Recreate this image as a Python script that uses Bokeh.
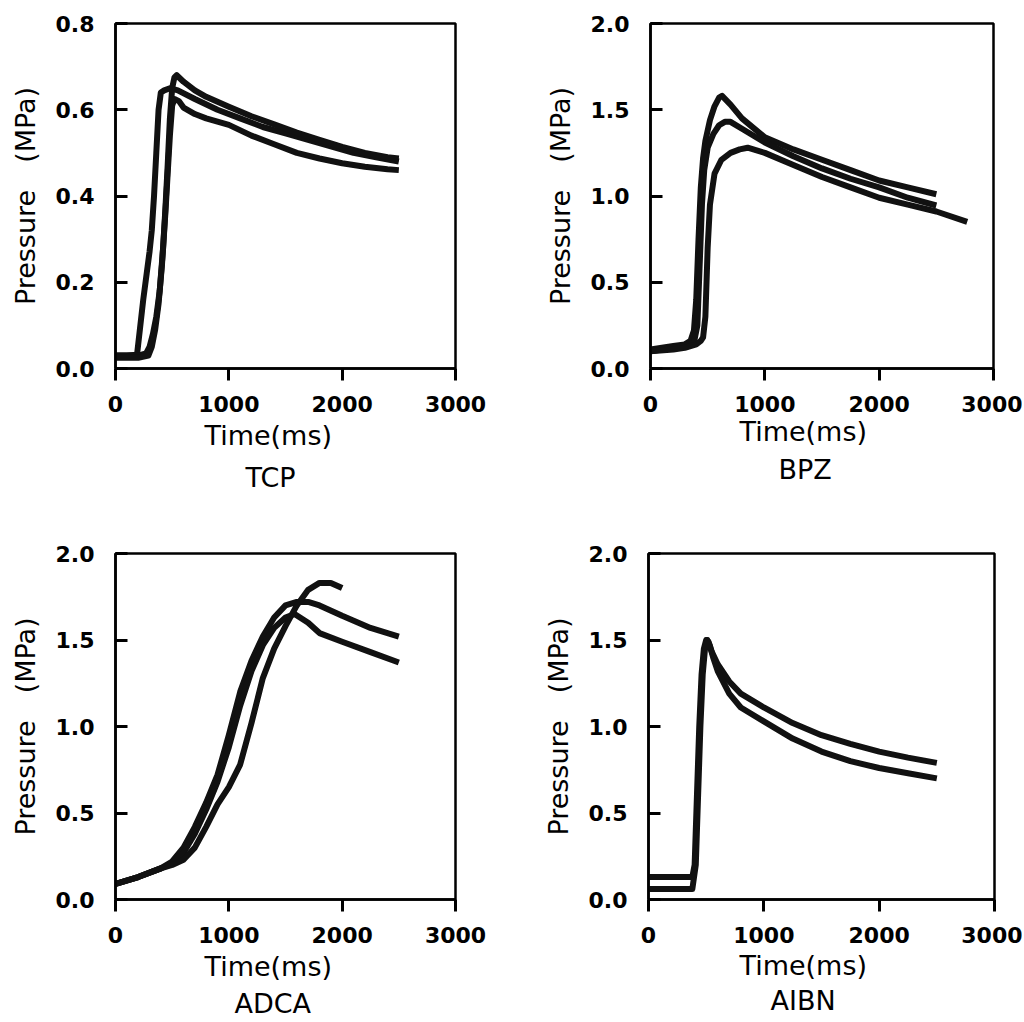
from bokeh.plotting import figure
from bokeh.layouts import column, row
from bokeh.models import Range1d, FixedTicker, PrintfTickFormatter, Title
from bokeh.embed import file_html
from bokeh.resources import INLINE

# ---------------- data ----------------
x_ticks = [0, 1000, 2000, 3000]

# TCP
tcp1_t = [0, 100, 190, 215, 245, 275, 300, 320, 340, 360, 380, 400, 430, 480, 550, 700, 900, 1100, 1300, 1500, 1700, 1900, 2100, 2300, 2500]
tcp1_p = [0.03, 0.03, 0.032, 0.09, 0.16, 0.22, 0.27, 0.32, 0.40, 0.50, 0.60, 0.64, 0.645, 0.65, 0.645, 0.625, 0.60, 0.58, 0.56, 0.545, 0.53, 0.515, 0.50, 0.49, 0.48]
tcp2_t = [0, 100, 200, 270, 300, 330, 360, 390, 420, 440, 460, 480, 500, 520, 540, 600, 700, 800, 1000, 1200, 1400, 1600, 1800, 2000, 2200, 2400, 2500]
tcp2_p = [0.03, 0.03, 0.03, 0.035, 0.05, 0.08, 0.12, 0.18, 0.28, 0.37, 0.47, 0.58, 0.65, 0.675, 0.68, 0.665, 0.645, 0.63, 0.607, 0.585, 0.566, 0.547, 0.53, 0.514, 0.50, 0.49, 0.487]
tcp3_t = [0, 100, 200, 290, 320, 350, 380, 410, 440, 460, 480, 500, 520, 560, 600, 700, 800, 1000, 1200, 1400, 1600, 1800, 2000, 2200, 2400, 2500]
tcp3_p = [0.025, 0.025, 0.025, 0.03, 0.05, 0.09, 0.15, 0.24, 0.36, 0.45, 0.54, 0.61, 0.625, 0.62, 0.605, 0.59, 0.58, 0.565, 0.54, 0.52, 0.50, 0.487, 0.476, 0.468, 0.462, 0.46]

# BPZ
bpz1_t = [0, 100, 200, 300, 350, 380, 400, 420, 440, 460, 480, 520, 560, 600, 626, 700, 800, 1000, 1250, 1500, 1750, 2000, 2250, 2500]
bpz1_p = [0.11, 0.12, 0.13, 0.14, 0.16, 0.22, 0.40, 0.75, 1.05, 1.22, 1.32, 1.44, 1.52, 1.57, 1.58, 1.53, 1.45, 1.34, 1.27, 1.21, 1.15, 1.09, 1.05, 1.01]
bpz2_t = [0, 200, 300, 380, 410, 430, 450, 470, 500, 550, 600, 650, 700, 800, 1000, 1250, 1500, 1750, 2000, 2250, 2500]
bpz2_p = [0.10, 0.12, 0.13, 0.15, 0.25, 0.60, 0.95, 1.15, 1.28, 1.36, 1.41, 1.43, 1.43, 1.39, 1.31, 1.23, 1.16, 1.10, 1.05, 0.99, 0.945]
bpz3_t = [0, 200, 300, 400, 440, 460, 480, 500, 520, 560, 620, 700, 780, 850, 1000, 1250, 1500, 1750, 2000, 2250, 2500, 2770]
bpz3_p = [0.10, 0.11, 0.12, 0.14, 0.16, 0.18, 0.30, 0.70, 0.95, 1.13, 1.21, 1.25, 1.27, 1.28, 1.25, 1.18, 1.11, 1.05, 0.99, 0.95, 0.91, 0.85]

# ADCA
adca1_t = [0, 200, 400, 500, 600, 700, 800, 900, 1000, 1100, 1200, 1300, 1400, 1500, 1600, 1700, 1800, 2000, 2250, 2500]
adca1_p = [0.09, 0.13, 0.18, 0.22, 0.30, 0.42, 0.56, 0.72, 0.95, 1.20, 1.38, 1.52, 1.63, 1.70, 1.72, 1.72, 1.70, 1.64, 1.57, 1.52]
adca2_t = [0, 200, 400, 500, 600, 700, 800, 900, 1000, 1100, 1200, 1300, 1400, 1500, 1580, 1700, 1800, 2000, 2250, 2500]
adca2_p = [0.09, 0.13, 0.18, 0.21, 0.27, 0.38, 0.52, 0.68, 0.88, 1.12, 1.32, 1.47, 1.57, 1.63, 1.65, 1.60, 1.54, 1.49, 1.43, 1.37]
adca3_t = [0, 200, 400, 500, 600, 700, 800, 900, 1000, 1100, 1200, 1300, 1400, 1500, 1600, 1700, 1800, 1900, 2000]
adca3_p = [0.09, 0.13, 0.18, 0.20, 0.23, 0.30, 0.42, 0.55, 0.65, 0.78, 1.02, 1.28, 1.45, 1.58, 1.70, 1.79, 1.83, 1.83, 1.80]

# AIBN
aibn1_t = [0, 380, 400, 420, 440, 460, 480, 500, 520, 550, 600, 700, 800, 1000, 1250, 1500, 1750, 2000, 2250, 2500]
aibn1_p = [0.13, 0.13, 0.20, 0.60, 1.00, 1.30, 1.45, 1.50, 1.49, 1.43, 1.36, 1.26, 1.19, 1.11, 1.02, 0.95, 0.90, 0.855, 0.82, 0.79]
aibn2_t = [0, 380, 410, 430, 450, 470, 490, 510, 530, 560, 600, 700, 800, 1000, 1250, 1500, 1750, 2000, 2250, 2500]
aibn2_p = [0.06, 0.06, 0.20, 0.60, 1.00, 1.30, 1.45, 1.50, 1.47, 1.40, 1.32, 1.19, 1.11, 1.03, 0.93, 0.855, 0.80, 0.76, 0.73, 0.70]

# ---------------- styling helpers ----------------
TICK_FONT = "DejaVu Sans"
TITLE_FONT = "DejaVu Sans"
INK = "#111111"


def caption(text, offset, standoff):
    return Title(text=text, align="left", offset=offset,
                 text_font=TITLE_FONT, text_font_style="normal",
                 text_font_size="27px", text_color="black",
                 standoff=standoff)


def panel(series, y_max, y_ticks, name, width, height, fw, fh, bl, bt,
          time_off, time_standoff, name_off, name_standoff):
    p = figure(width=width, height=height, output_backend="svg",
               toolbar_location=None, tools="",
               x_range=Range1d(0, 3000), y_range=Range1d(0, y_max),
               min_border_left=bl, min_border_top=bt,
               min_border_right=width - bl - fw,
               min_border_bottom=height - bt - fh)
    p.grid.visible = False
    p.outline_line_color = "black"
    p.outline_line_width = 2.5
    p.background_fill_color = "white"
    p.border_fill_color = "white"

    for t, v in series:
        p.line(t, v, line_color=INK, line_width=6, line_join="round")

    xa = p.xaxis[0]
    xa.ticker = FixedTicker(ticks=x_ticks)
    xa.formatter = PrintfTickFormatter(format="%d")
    xa.major_tick_in = 0
    xa.major_tick_out = 12
    xa.minor_tick_line_color = None
    xa.axis_line_width = 2.5
    xa.major_tick_line_width = 3
    xa.major_label_standoff = 15
    xa.major_label_text_font = TICK_FONT
    xa.major_label_text_font_style = "bold"
    xa.major_label_text_font_size = "22px"
    xa.major_label_text_color = "black"

    ya = p.yaxis[0]
    ya.ticker = FixedTicker(ticks=y_ticks)
    ya.formatter = PrintfTickFormatter(format="%.1f")
    ya.major_tick_in = 12
    ya.major_tick_out = 0
    ya.minor_tick_line_color = None
    ya.axis_line_width = 2.5
    ya.major_tick_line_width = 3
    ya.major_label_standoff = 21
    ya.major_label_text_font = TICK_FONT
    ya.major_label_text_font_style = "bold"
    ya.major_label_text_font_size = "22px"
    ya.major_label_text_color = "black"
    ya.axis_label = "Pressure\u2003(MPa)"
    ya.axis_label_text_font = TITLE_FONT
    ya.axis_label_text_font_style = "normal"
    ya.axis_label_text_font_size = "27px"
    ya.axis_label_standoff = 12
    ya.axis_label_text_color = "black"

    p.add_layout(caption("Time(ms)", time_off, time_standoff), "below")
    p.add_layout(caption(name, name_off, name_standoff), "below")
    return p


p1 = panel([(tcp1_t, tcp1_p), (tcp2_t, tcp2_p), (tcp3_t, tcp3_p)],
           0.8, [0.0, 0.2, 0.4, 0.6, 0.8], "TCP",
           520, 530, 340, 345, 115, 23, 89, 6, 130, 13)
p2 = panel([(bpz1_t, bpz1_p), (bpz2_t, bpz2_p), (bpz3_t, bpz3_p)],
           2.0, [0.0, 0.5, 1.0, 1.5, 2.0], "BPZ",
           502, 530, 343, 346, 130, 23, 89, -2, 128, 13)
p3 = panel([(adca1_t, adca1_p), (adca2_t, adca2_p), (adca3_t, adca3_p)],
           2.0, [0.0, 0.5, 1.0, 1.5, 2.0], "ADCA",
           520, 492, 340, 346, 115, 23, 89, 6, 119, 2)
p4 = panel([(aibn1_t, aibn1_p), (aibn2_t, aibn2_p)],
           2.0, [0.0, 0.5, 1.0, 1.5, 2.0], "AIBN",
           502, 492, 346, 349, 128, 23, 91, 4, 122, 1)

layout = column(row(p1, p2), row(p3, p4))
open("out.html", "w").write(file_html(layout, INLINE))
